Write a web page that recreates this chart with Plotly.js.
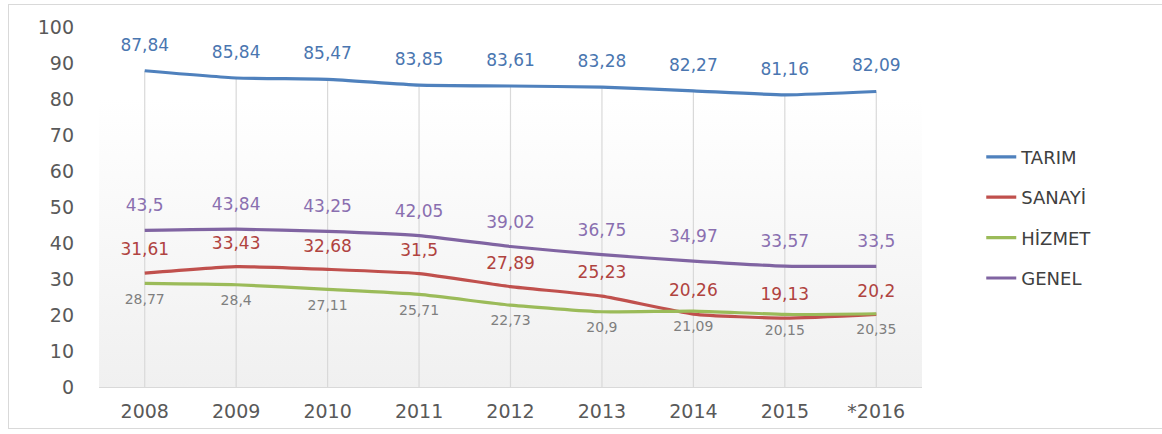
<!DOCTYPE html>
<html><head><meta charset="utf-8">
<script src="https://cdn.plot.ly/plotly-3.0.1.min.js"></script>
<style>
html,body{margin:0;padding:0;background:#fff;}
#frame{position:absolute;left:8px;top:4px;width:1160px;height:425px;border:1px solid #d9d9d9;border-right:none;box-sizing:border-box;}
#chart{position:absolute;left:0;top:0;width:1162px;height:434px;}
</style></head>
<body>
<div id="frame"></div>
<div id="chart"></div>
<script>
const years = ['2008','2009','2010','2011','2012','2013','2014','2015','*2016'];
const tarim  = [87.84,85.84,85.47,83.85,83.61,83.28,82.27,81.16,82.09];
const sanayi = [31.61,33.43,32.68,31.5,27.89,25.23,20.26,19.13,20.2];
const hizmet = [28.77,28.4,27.11,25.71,22.73,20.9,21.09,20.15,20.35];
const genel  = [43.5,43.84,43.25,42.05,39.02,36.75,34.97,33.57,33.5];
const yTicks = [0,10,20,30,40,50,60,70,80,90,100];

const fmt = a => a.map(v => String(v).replace('.', ','));
const FONT = 'DejaVu Sans';

function series(name, y, color, pos, fsize, fcolor, msize){
  return {
    x: years, y: y, name: name, type: 'scatter',
    mode: 'lines+markers+text',
    line: {color: color, width: 3.2, shape: 'spline', smoothing: 0.5},
    marker: {size: msize, color: 'rgba(0,0,0,0)', line: {width: 0}},
    text: fmt(y), textposition: pos,
    textfont: {family: FONT, size: fsize, color: fcolor},
    legendgroup: name, hoverinfo: 'skip'
  };
}

const drop = {
  x: years, y: tarim, type: 'scatter', mode: 'markers',
  marker: {size: 1, color: 'rgba(0,0,0,0)'}, showlegend: false, hoverinfo: 'skip',
  error_y: {type: 'data', symmetric: false, array: tarim.map(()=>0), arrayminus: tarim,
            color: '#d9d9d9', thickness: 1.2, width: 0}
};

const data = [
  drop,
  series('TARIM', tarim, '#4f81bd', 'top center', 17, '#4a76b0', 24),
  series('SANAYİ', sanayi, '#c0504d', 'top center', 17, '#b0433f', 20),
  series('HİZMET', hizmet, '#9bbb59', 'bottom center', 14, '#7f7f7f', 14),
  series('GENEL', genel, '#8064a2', 'top center', 17, '#8a6fb0', 22)
];

const svg = "<svg xmlns='http://www.w3.org/2000/svg' width='10' height='100' preserveAspectRatio='none'><defs><linearGradient id='g' x1='0' y1='0' x2='0' y2='1'><stop offset='0' stop-color='#ffffff'/><stop offset='0.2' stop-color='#ffffff'/><stop offset='1' stop-color='#f0f0f0'/></linearGradient></defs><rect width='10' height='100' fill='url(#g)'/></svg>";

const layout = {
  width: 1162, height: 434,
  margin: {l: 99, r: 240, t: 27, b: 47},
  paper_bgcolor: 'rgba(0,0,0,0)', plot_bgcolor: 'rgba(0,0,0,0)',
  font: {family: FONT, color: '#595959'},
  showlegend: true,
  legend: {x: 1.072, y: 0.69, xanchor: 'left', yanchor: 'top',
           font: {family: FONT, size: 18, color: '#404040'},
           traceorder: 'grouped', tracegroupgap: 14, bgcolor: 'rgba(0,0,0,0)'},
  xaxis: {type: 'category', range: [-0.5, 8.5], showgrid: false, zeroline: false,
          showline: true, linecolor: '#d9d9d9', linewidth: 1, ticks: '',
          tickfont: {family: FONT, size: 19, color: '#595959'}, ticklabelstandoff: 7, fixedrange: true},
  yaxis: {range: [0, 100], tickvals: yTicks, ticktext: yTicks.map(String), showgrid: false,
          zeroline: false, showline: false, ticks: '',
          tickfont: {family: FONT, size: 19, color: '#595959'}, ticklabelstandoff: 24, fixedrange: true},
  images: [{source: 'data:image/svg+xml;charset=utf-8,' + encodeURIComponent(svg),
            xref: 'paper', yref: 'paper', x: 0, y: 1, sizex: 1, sizey: 1,
            sizing: 'stretch', layer: 'below', xanchor: 'left', yanchor: 'top'}]
};

Plotly.newPlot('chart', data, layout, {displayModeBar: false, staticPlot: true});
</script>
</body></html>
